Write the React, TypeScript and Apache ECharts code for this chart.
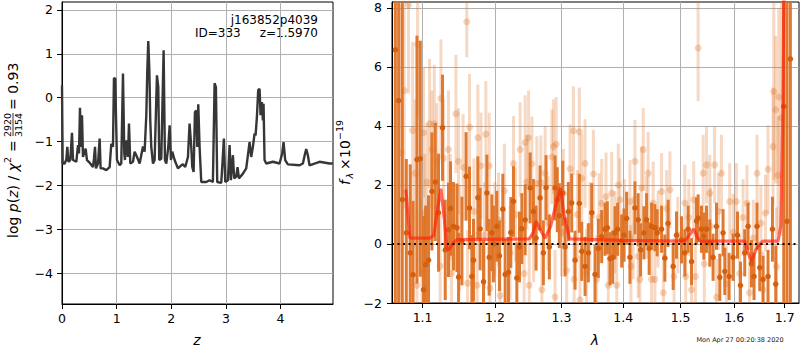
import React, { useEffect, useRef } from "react";
import * as echarts from "echarts";

const F = "DejaVu Sans";

// left panel: log p(z) curve  [z, log p]
const logPz: [number, number][] = [
  [0.0, 0.28], [0.012, -1.5], [0.049, -1.5], [0.079, -1.41], [0.098, -1.12], [0.116, -1.46],
  [0.152, -1.42], [0.183, -0.8], [0.201, -1.42], [0.262, -1.46], [0.293, -1.08], [0.311, -1.27],
  [0.329, -0.23], [0.348, -1.12], [0.366, -0.4], [0.384, -1.35], [0.433, -1.16], [0.457, -1.42],
  [0.506, -1.48], [0.567, -1.58], [0.585, -1.39], [0.604, -1.12], [0.622, -1.61], [0.659, -1.5],
  [0.689, -0.93], [0.707, -1.61], [0.75, -1.61], [0.811, -1.65], [0.872, -1.58], [0.902, -1.05],
  [0.933, -1.12], [0.951, 0.45], [0.976, 0.43], [0.988, -0.4], [1.006, -1.42], [1.055, -1.54],
  [1.085, -1.5], [1.116, 0.55], [1.14, -1.27], [1.152, -1.42], [1.177, -0.97], [1.207, -1.35],
  [1.226, -0.59], [1.25, -1.5], [1.299, -1.46], [1.329, -1.23], [1.36, -1.31], [1.421, -1.5],
  [1.482, -1.11], [1.512, -1.23], [1.543, -0.4], [1.561, 0.62], [1.579, 1.29], [1.598, 0.66],
  [1.616, -0.53], [1.634, -1.12], [1.665, -1.5], [1.695, -1.42], [1.738, 0.51], [1.762, 0.24],
  [1.78, -1.42], [1.817, -1.39], [1.86, 1.08], [1.884, -1.42], [1.909, -1.5], [1.945, -1.12],
  [1.97, -0.63], [1.994, -1.42], [2.018, -1.23], [2.061, -1.42], [2.122, -1.61], [2.183, -1.54],
  [2.213, -1.52], [2.256, -1.58], [2.305, -1.35], [2.335, -0.59], [2.366, -1.12], [2.384, -1.58],
  [2.409, -1.69], [2.433, -0.33], [2.457, -0.29], [2.476, -1.12], [2.494, -0.15], [2.518, -1.12],
  [2.549, -1.92], [2.64, -1.92], [2.701, -1.88], [2.762, -1.92], [2.793, 0.33], [2.817, 0.24],
  [2.841, -1.92], [2.915, -1.94], [2.963, -0.93], [2.988, -1.92], [3.037, -1.88], [3.067, -1.08],
  [3.091, -1.88], [3.128, -1.31], [3.152, -1.84], [3.189, -1.8], [3.213, -1.58], [3.238, -1.84],
  [3.311, -1.73], [3.372, -1.61], [3.433, -1.01], [3.463, -1.35], [3.494, -1.12], [3.524, -0.82],
  [3.543, -0.86], [3.567, -0.44], [3.591, 0.17], [3.616, 0.2], [3.634, -0.4], [3.659, -0.1],
  [3.677, -0.52], [3.689, -0.14], [3.707, -1.42], [3.738, -1.5], [3.86, -1.46], [3.982, -1.5],
  [4.03, -1.27], [4.055, -1.01], [4.085, -1.42], [4.134, -1.52], [4.348, -1.54], [4.409, -1.5],
  [4.451, -1.26], [4.47, -1.17], [4.5, -1.31], [4.53, -1.54], [4.713, -1.46], [4.896, -1.5],
  [4.957, -1.5],
];

const zTicks = [0, 1, 2, 3, 4];
const logpTicks = [-4, -3, -2, -1, 0, 1, 2];
const waveTicks = [1.1, 1.2, 1.3, 1.4, 1.5, 1.6, 1.7];
const fluxTicks = [-2, 0, 2, 4, 6, 8];

// right panel: first grism spectrum  [lambda (um), flux, error]
const darkSpec: [number, number, number][] = [
  [1.0646, 6.58, 12], [1.0688, 4.86, 12], [1.0735, 1.5, 12], [1.0787, 0.38, 2.5], [1.0838, -0.3, 3.0],
  [1.0875, -1.04, 2.5], [1.0926, 2.86, 4.2], [1.097, 2.89, 4.0], [1.1013, -1.55, 2.5], [1.104, -0.7, 2.0],
  [1.1079, -0.55, 2.2], [1.1124, 1.78, 2.0], [1.1169, 2.1, 2.0], [1.1213, 1.06, 2.0], [1.1267, 3.94, 1.8],
  [1.1304, -0.2, 1.7], [1.1348, 0.48, 1.6], [1.1376, 1.2, 1.6], [1.1417, 0.6, 1.5], [1.1464, 0.55, 1.5],
  [1.1486, -1.12, 1.5], [1.1533, 0.1, 1.5], [1.1591, 2.29, 1.5], [1.1638, 1.22, 1.4], [1.1671, -1.1, 1.4],
  [1.1694, -0.55, 1.4], [1.1756, 1.57, 1.4], [1.1788, 0.51, 1.4], [1.1836, -1.28, 1.4], [1.1884, 1.73, 1.3],
  [1.1917, -0.45, 1.3], [1.1955, 0.38, 1.3], [1.1978, 0.0, 1.3], [1.2027, 0.6, 1.2], [1.2065, -0.4, 1.2],
  [1.2114, 1.18, 1.2], [1.2148, -1.03, 1.2], [1.2197, -0.96, 1.2], [1.2231, 0.39, 1.2], [1.227, 1.44, 1.2],
  [1.232, -1.15, 1.2], [1.2359, -0.1, 1.2], [1.2394, 0.52, 1.2], [1.2444, 0.82, 1.2], [1.2518, 1.9, 1.2],
  [1.2568, 1.1, 1.1], [1.2608, 0.2, 1.1], [1.2669, 1.56, 1.1], [1.2719, -0.3, 1.1], [1.276, 1.91, 1.1],
  [1.2811, -0.1, 1.1], [1.2899, 1.9, 1.1], [1.2934, 1.5, 1.1], [1.2965, 0.96, 1.1], [1.3018, 1.72, 1.1],
  [1.3055, -0.1, 1.0], [1.3107, 1.1, 1.0], [1.316, 1.39, 1.0], [1.3213, -0.55, 1.0], [1.3281, 1.38, 1.0],
  [1.332, -0.25, 1.0], [1.3373, -0.76, 1.0], [1.3426, -0.3, 1.0], [1.3481, 1.06, 1.0], [1.3534, -1.03, 1.0],
  [1.3588, -0.15, 1.0], [1.3643, 0.25, 0.9], [1.3697, 0.5, 0.9], [1.3736, 0.55, 0.9], [1.378, -0.5, 0.9],
  [1.3825, -0.45, 0.9], [1.3863, 0.38, 0.9], [1.3907, 0.5, 0.9], [1.3974, 0.1, 0.9], [1.4013, 0.3, 0.9],
  [1.4058, 0.87, 0.9], [1.4114, -0.45, 0.9], [1.4199, 1.22, 0.9], [1.4255, 0.82, 0.9], [1.4296, -0.2, 0.9],
  [1.4353, 0.38, 0.9], [1.4399, 0.82, 0.9], [1.4444, -0.15, 0.9], [1.4486, 0.6, 0.8], [1.4544, 0.55, 0.8],
  [1.4584, 0.38, 0.8], [1.4661, 0.5, 0.8], [1.4719, -0.48, 0.8], [1.4777, 0.7, 0.8], [1.4867, -0.76, 0.8],
  [1.4927, 0.3, 0.8], [1.5017, 0.14, 0.8], [1.5077, -0.3, 0.8], [1.5137, 0.5, 0.8], [1.5199, -0.6, 0.8],
  [1.529, 0.78, 0.8], [1.532, 0.88, 0.8], [1.5382, 0.5, 0.8], [1.5425, 0.27, 0.8], [1.5475, 0.5, 0.8],
  [1.5536, 0.03, 0.8], [1.5598, -0.45, 0.8], [1.5662, 0.6, 0.8], [1.5724, -1.13, 0.8], [1.5786, 0.38, 0.8],
  [1.5819, -0.93, 0.8], [1.5901, -1.1, 0.8], [1.5977, -0.45, 0.8], [1.6062, 0.3, 0.8], [1.612, -1.4, 0.8],
  [1.6203, -0.3, 0.8], [1.6268, 0.6, 0.8], [1.6334, -0.67, 0.8], [1.6385, -1.1, 0.8], [1.6444, 0.6, 0.8],
  [1.6498, -0.8, 0.8], [1.6564, -1.2, 0.8], [1.6663, -1.1, 0.9], [1.6752, 0.5, 1.1], [1.6818, -1.36, 1.3],
  [1.6981, 4.66, 12], [1.7048, 0.77, 12], [1.7117, 6.27, 12],
];

// right panel: second grism spectrum (faint)  [lambda (um), flux, error]
const lightSpec: [number, number, number][] = [
  [1.072, 3.1, 5], [1.076, 5.2, 4], [1.0816, 8.1, 3], [1.0869, 3.85, 3], [1.0904, 2.4, 2.5],
  [1.0926, -1.4, 2.5], [1.0934, 6.76, 2.5], [1.0992, -0.95, 2.5], [1.1013, 3.77, 2.2], [1.1029, 1.05, 2],
  [1.1058, 2.1, 2], [1.1093, 4.07, 2.2], [1.1124, 3.2, 2], [1.1156, 4.07, 2], [1.1192, 2.78, 2],
  [1.1235, -0.75, 1.8], [1.1245, 4.93, 2], [1.1281, 2.9, 2], [1.1348, 3.2, 2], [1.1372, 1.25, 1.8],
  [1.1389, -1.0, 1.8], [1.145, 4.41, 2], [1.1486, 2.8, 1.8], [1.15, 0.2, 1.8], [1.1549, 2.6, 1.8],
  [1.16, 7.53, 1.2], [1.1611, -1.33, 1.8], [1.1638, 3.96, 1.8], [1.17, 1.1, 1.8], [1.1745, -1.4, 1.8],
  [1.1756, 3.6, 1.8], [1.18, 2.65, 1.8], [1.185, 0.3, 1.8], [1.1869, 3.72, 1.8], [1.1917, 2.65, 1.8],
  [1.193, -1.5, 1.6], [1.2, 0.5, 1.6], [1.2051, 0.82, 1.6], [1.2074, -1.75, 1.6], [1.2137, 1.8, 1.6],
  [1.2221, -0.3, 1.6], [1.227, 2.73, 1.6], [1.23, 1.0, 1.6], [1.2369, 3.2, 1.6], [1.2429, -1.0, 1.6],
  [1.2444, 3.44, 1.6], [1.247, 2.1, 1.6], [1.2495, 3.6, 1.6], [1.2505, -1.4, 1.6], [1.2545, 2.72, 1.6],
  [1.257, 0.3, 1.6], [1.262, 2.05, 1.6], [1.2681, 2.08, 1.6], [1.2696, -1.55, 1.6], [1.2746, 2.4, 1.6],
  [1.279, 0.7, 1.6], [1.2849, 2.95, 1.6], [1.2874, 3.3, 1.6], [1.2899, -1.8, 1.6], [1.2916, 3.38, 1.6],
  [1.3, 0.4, 1.5], [1.3029, 1.72, 1.5], [1.308, -0.9, 1.5], [1.3134, 2.55, 1.5], [1.3187, 3.84, 1.5],
  [1.3198, -1.2, 1.5], [1.325, 1.0, 1.5], [1.3281, 3.8, 1.5], [1.3292, -1.89, 1.5], [1.332, 2.23, 1.5],
  [1.3373, 2.73, 1.5], [1.3397, -0.98, 1.5], [1.345, 0.6, 1.5], [1.3508, 2.37, 1.5], [1.3559, -1.2, 1.5],
  [1.36, 0.9, 1.5], [1.3643, 1.38, 1.5], [1.3714, 1.6, 1.5], [1.3752, -1.4, 1.4], [1.3808, 1.72, 1.4],
  [1.386, 0.4, 1.4], [1.3892, -1.4, 1.4], [1.3918, 2.0, 1.4], [1.3946, 1.5, 1.4], [1.402, 0.8, 1.4],
  [1.4114, 1.44, 1.4], [1.4131, -0.76, 1.4], [1.417, 0.2, 1.4], [1.4199, 2.8, 1.4], [1.4255, -0.42, 1.4],
  [1.4284, -1.2, 1.4], [1.4313, 1.9, 1.4], [1.4342, 3.2, 1.4], [1.44, 0.9, 1.4], [1.4427, 2.4, 1.4],
  [1.4486, -1.2, 1.4], [1.4514, 1.39, 1.4], [1.4544, -1.2, 1.3], [1.46, 0.5, 1.3], [1.4661, 1.78, 1.3],
  [1.4693, -1.65, 1.3], [1.475, 1.2, 1.3], [1.4809, 1.84, 1.3], [1.4883, -1.1, 1.3], [1.495, 0.3, 1.3],
  [1.5077, 1.39, 1.3], [1.5093, -1.1, 1.3], [1.515, 0.9, 1.3], [1.5199, -1.55, 1.3], [1.5238, 1.5, 1.3],
  [1.5269, -1.1, 1.3], [1.532, 6.64, 1.8], [1.5413, 2.4, 1.3], [1.5434, -0.67, 1.3], [1.5475, 2.68, 1.3],
  [1.5536, 1.72, 1.3], [1.555, 0.6, 1.3], [1.5626, 2.68, 1.3], [1.5662, -1.8, 1.3], [1.57, 1.1, 1.3],
  [1.5755, 2.4, 1.3], [1.585, -1.35, 1.3], [1.5913, 1.44, 1.3], [1.598, 0.4, 1.3], [1.604, 1.44, 1.3],
  [1.6103, -1.0, 1.3], [1.617, 0.9, 1.3], [1.6246, 1.38, 1.3], [1.6296, -1.65, 1.3], [1.637, 0.2, 1.3],
  [1.6444, 2.4, 1.3], [1.652, 0.7, 1.3], [1.6564, -1.55, 1.3], [1.6613, 1.05, 1.3], [1.6663, 2.53, 1.5],
  [1.6764, 3.3, 2], [1.6778, 5.17, 3], [1.6818, 4.55, 2.5], [1.6834, -0.76, 2], [1.6865, 2.33, 2],
  [1.6879, 4.98, 3], [1.6934, 4.28, 4],
];

// best-fit model  [lambda, flux]
const modelSpec: [number, number][] = [
  [1.0781, 1.84], [1.0834, 0.2], [1.11, 0.2], [1.115, 0.3], [1.12, 1.2], [1.1245, 1.87], [1.129, 0.9],
  [1.1322, -0.12], [1.1355, -0.2], [1.14, 0.0], [1.1464, 0.15], [1.25, 0.17], [1.256, 0.35],
  [1.2608, 0.77], [1.268, 0.45], [1.2746, 0.2], [1.283, 0.6], [1.292, 1.4], [1.2981, 1.9], [1.304, 1.0],
  [1.3125, 0.17], [1.4, 0.12], [1.5077, 0.1], [1.516, 0.3], [1.5238, 0.51], [1.53, 0.25], [1.5352, 0.1],
  [1.6203, 0.1], [1.627, -0.3], [1.6334, -0.59], [1.642, -0.2], [1.6498, 0.0], [1.6564, 0.1],
  [1.6865, 0.1], [1.692, 0.6], [1.6964, 4.6], [1.7, 12], [1.705, 20],
];

const lg = Math.log10;
const minus = (s: string) => s.replace("-", "\u2212");

function errBar(color: string, opacity: number, w: number) {
  return (params: any, api: any) => {
    const x = api.value(0), y = api.value(1), e = api.value(2);
    const top = api.coord([x, y + e]);
    const bot = api.coord([x, y - e]);
    const cs = params.coordSys;
    const r = echarts.graphic.clipRectByRect(
      { x: top[0] - w / 2, y: top[1], width: w, height: bot[1] - top[1] },
      { x: cs.x, y: cs.y, width: cs.width, height: cs.height }
    );
    if (!r) return null;
    return { type: "rect", shape: r, style: { fill: color, opacity } };
  };
}

const axisCommon = {
  axisLine: { show: true, onZero: false, lineStyle: { color: "#000", width: 1 } },
  axisTick: { show: true, length: 5, lineStyle: { color: "#000", width: 1 } },
  splitLine: { show: true, lineStyle: { color: "#b0b0b0", width: 1 } },
};
const labelCommon = { color: "#000", fontFamily: F, fontSize: 12.5 };

const ORANGE = "#de7326";
const ORANGE_DOT = "#d4600f";

export default function App() {
  const ref = useRef<HTMLDivElement>(null);
  useEffect(() => {
    const chart = echarts.init(ref.current!, null, { renderer: "svg" });
    const option: any = {
      animation: false,
      backgroundColor: "#fff",
      grid: [
        { left: 62, top: 2, width: 271, height: 302, show: true, borderColor: "#000", borderWidth: 1, backgroundColor: "transparent", containLabel: false, outerBoundsMode: "none" },
        { left: 392, top: 2, width: 407, height: 301, show: true, borderColor: "#000", borderWidth: 1, backgroundColor: "transparent", containLabel: false, outerBoundsMode: "none" },
      ],
      xAxis: [
        {
          type: "value", gridIndex: 0, min: 0, max: 4.96, ...axisCommon,
          axisTick: { ...axisCommon.axisTick, customValues: zTicks },
          axisLabel: { ...labelCommon, margin: 8, customValues: zTicks, formatter: (v: number) => minus(String(v)) },
        },
        {
          type: "value", gridIndex: 1, min: lg(1.0603), max: lg(1.7295), ...axisCommon,
          axisTick: { ...axisCommon.axisTick, customValues: waveTicks.map(lg) },
          axisLabel: { ...labelCommon, margin: 8, customValues: waveTicks.map(lg), formatter: (v: number) => Math.pow(10, v).toFixed(1) },
        },
      ],
      yAxis: [
        {
          type: "value", gridIndex: 0, min: -4.7, max: 2.18, ...axisCommon,
          axisTick: { ...axisCommon.axisTick, customValues: logpTicks },
          axisLabel: { ...labelCommon, margin: 9, customValues: logpTicks, formatter: (v: number) => minus(String(Math.round(v))) },
        },
        {
          type: "value", gridIndex: 1, min: -2, max: 8.2, ...axisCommon,
          axisTick: { ...axisCommon.axisTick, customValues: fluxTicks },
          axisLabel: { ...labelCommon, margin: 10, customValues: fluxTicks, formatter: (v: number) => minus(String(Math.round(v))) },
        },
      ],
      series: [
        {
          type: "line", xAxisIndex: 0, yAxisIndex: 0, data: logPz, symbol: "none",
          lineStyle: { color: "#363636", width: 2.4 }, silent: true,
        },
        {
          type: "custom", xAxisIndex: 1, yAxisIndex: 1,
          data: lightSpec.map(([w, f, e]) => [lg(w), f, e]),
          renderItem: errBar(ORANGE, 0.28, 3), encode: { x: 0, y: 1 }, silent: true,
        },
        {
          type: "scatter", xAxisIndex: 1, yAxisIndex: 1,
          data: lightSpec.map(([w, f]) => [lg(w), f]),
          symbolSize: 7, itemStyle: { color: ORANGE, opacity: 0.3 }, silent: true,
        },
        {
          type: "custom", xAxisIndex: 1, yAxisIndex: 1,
          data: darkSpec.map(([w, f, e]) => [lg(w), f, e]),
          renderItem: errBar(ORANGE, 0.95, 3), encode: { x: 0, y: 1 }, silent: true,
        },
        {
          type: "scatter", xAxisIndex: 1, yAxisIndex: 1,
          data: darkSpec.map(([w, f]) => [lg(w), f]),
          symbolSize: 5.5, itemStyle: { color: ORANGE_DOT, opacity: 1 }, silent: true,
        },
        {
          type: "line", xAxisIndex: 1, yAxisIndex: 1,
          data: modelSpec.map(([w, f]) => [lg(w), f]), symbol: "none", clip: true,
          lineStyle: { color: "rgba(255,30,10,0.65)", width: 3.2 }, silent: true,
          markLine: {
            silent: true, symbol: ["none", "none"], label: { show: false },
            lineStyle: { color: "#000", width: 2, type: [2, 3.5], opacity: 1 },
            data: [{ yAxis: 0 }],
          },
        },
      ],
      graphic: [
        { type: "text", x: 318, y: 20, style: { text: "j163852p4039", align: "right", verticalAlign: "middle", fontSize: 12, fontFamily: F, fill: "#000" } },
        { type: "text", x: 195, y: 33, style: { text: "ID=333", align: "left", verticalAlign: "middle", fontSize: 12, fontFamily: F, fill: "#000" } },
        { type: "text", x: 318, y: 33, style: { text: "z=1.5970", align: "right", verticalAlign: "middle", fontSize: 12, fontFamily: F, fill: "#000" } },
        { type: "text", x: 197, y: 340, style: { text: "z", align: "center", verticalAlign: "middle", fontSize: 14, fontStyle: "italic", fontFamily: F, fill: "#000" } },
        { type: "text", x: 595, y: 340, style: { text: "λ", align: "center", verticalAlign: "middle", fontSize: 14, fontStyle: "italic", fontFamily: F, fill: "#000" } },
        { type: "text", x: 740, y: 339.5, style: { text: "Mon Apr 27 00:20:38 2020", align: "center", verticalAlign: "middle", fontSize: 6.5, fontFamily: F, fill: "#222" } },
        {
          type: "group", x: 13, y: 238, rotation: Math.PI / 2,
          children: [
            {
              type: "text", x: 0, y: 0,
              style: {
                text: "{n|log }{i|p}{n|(}{i|z}{n|) / }{i|χ}", align: "left", verticalAlign: "middle",
                fontSize: 14, fontFamily: F, fill: "#000",
                rich: {
                  n: { fontSize: 14, fontFamily: F, fill: "#000" },
                  i: { fontSize: 14, fontFamily: F, fontStyle: "italic", fill: "#000" },
                },
              },
            },
            { type: "text", x: 75, y: -6, style: { text: "2", align: "left", verticalAlign: "middle", fontSize: 9.5, fontFamily: F, fill: "#000" } },
            { type: "text", x: 86, y: 0, style: { text: "=", align: "left", verticalAlign: "middle", fontSize: 14, fontFamily: F, fill: "#000" } },
            { type: "text", x: 113, y: -5.5, style: { text: "2920", align: "center", verticalAlign: "middle", fontSize: 9.5, fontFamily: F, fill: "#000" } },
            { type: "line", shape: { x1: 102, y1: 0, x2: 125, y2: 0 }, style: { stroke: "#000", lineWidth: 0.8 } },
            { type: "text", x: 113, y: 5.5, style: { text: "3154", align: "center", verticalAlign: "middle", fontSize: 9.5, fontFamily: F, fill: "#000" } },
            { type: "text", x: 128, y: 0, style: { text: "= 0.93", align: "left", verticalAlign: "middle", fontSize: 14, fontFamily: F, fill: "#000" } },
          ],
        },
        {
          type: "group", x: 345, y: 185, rotation: Math.PI / 2,
          children: [
            { type: "text", x: 0, y: 0, style: { text: "f", align: "left", verticalAlign: "middle", fontSize: 14, fontStyle: "italic", fontFamily: F, fill: "#000" } },
            { type: "text", x: 6.5, y: 4, style: { text: "λ", align: "left", verticalAlign: "middle", fontSize: 9.5, fontStyle: "italic", fontFamily: F, fill: "#000" } },
            { type: "text", x: 15, y: 0, style: { text: "×", align: "left", verticalAlign: "middle", fontSize: 14, fontFamily: F, fill: "#000" } },
            { type: "text", x: 27, y: 0, style: { text: "10", align: "left", verticalAlign: "middle", fontSize: 14, fontFamily: F, fill: "#000" } },
            { type: "text", x: 45, y: -6, style: { text: "\u221219", align: "left", verticalAlign: "middle", fontSize: 9.5, fontFamily: F, fill: "#000" } },
          ],
        },
      ],
    };
    chart.setOption(option);
    return () => chart.dispose();
  }, []);
  return <div ref={ref} style={{ position: "absolute", left: 0, top: 0, width: 800, height: 350 }} />;
}
